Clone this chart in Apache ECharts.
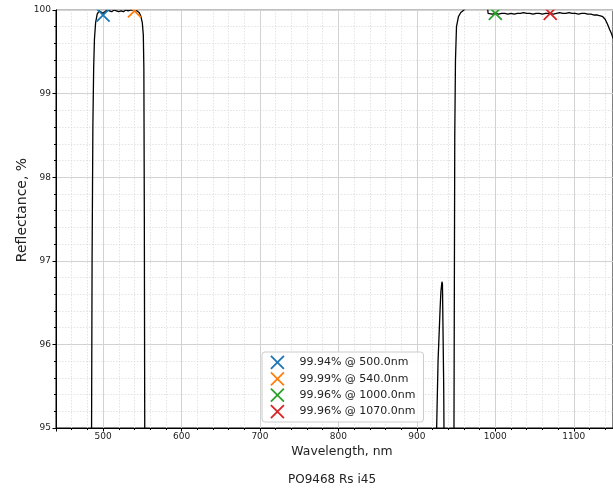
<!DOCTYPE html>
<html>
<head>
<meta charset="utf-8">
<script src="https://cdn.jsdelivr.net/npm/echarts@6/dist/echarts.min.js"></script>
<style>
  html, body { margin: 0; padding: 0; background: #fff; }
  #main { width: 613px; height: 493px; }
</style>
</head>
<body>
<div id="main"></div>
<script>
// measured reflectance curve (values below 95 run off the plot)
var wavelength = [
  440, 484.0, 485.0, 486.0, 487.0, 488.0, 489.0, 490.5, 492.5, 495, 497, 500,
  502, 505, 508, 511, 514, 517, 520, 523, 526, 529, 532, 535, 538, 540, 543,
  546, 548, 550, 551.3, 552, 552.6, 553, 553.6, 556, 600, 900, 924, 925.2, 927,
  929.5, 930.6, 932, 932.6, 934.2, 935.2, 937, 946, 947.3, 948.3, 949.2, 950.5,
  953, 956, 960, 963, 970, 980, 990, 990.8, 993, 996, 1000, 1004, 1008, 1012,
  1016, 1020, 1024, 1028, 1032, 1036, 1040, 1044, 1048, 1052, 1056, 1060, 1064,
  1068, 1070, 1074, 1078, 1082, 1086, 1090, 1094, 1098, 1102, 1106, 1110, 1114,
  1118, 1122, 1126, 1130, 1134, 1137, 1140, 1143, 1146, 1148, 1150
];
var reflectance = [
  80, 88, 94.0, 97.0, 98.6, 99.3, 99.65, 99.85, 99.95, 99.99, 100.0, 99.96,
  99.98, 100.0, 99.99, 99.98, 100.0, 99.99, 99.98, 99.99, 99.98, 100.0, 99.99, 100.0, 100.0, 99.99, 99.99,
  99.97, 99.93, 99.85, 99.7, 99.3, 97.5, 95.5, 93, 85, 80, 80, 88, 95.0, 95.8,
  96.4, 96.63, 96.75, 96.72, 95.5, 94, 88, 88, 95, 98.5, 99.4, 99.8,
  99.92, 99.97, 100.0, 100.03, 100.04, 100.03, 100.04, 99.96, 99.96, 99.95, 99.96, 99.95, 99.96, 99.96,
  99.95, 99.96, 99.95, 99.96, 99.96, 99.97, 99.96, 99.96, 99.95, 99.96, 99.96, 99.95, 99.96,
  99.96, 99.96, 99.95, 99.96, 99.97, 99.96, 99.96, 99.97, 99.96, 99.96, 99.95, 99.96, 99.96,
  99.95, 99.95, 99.94, 99.94, 99.93, 99.92, 99.89, 99.83, 99.76, 99.72, 99.66
];

// marked points
var markWl = [500, 540, 1000, 1070];
var markR = [99.94, 99.99, 99.96, 99.96];
var markNames = ['99.94% @ 500.0nm', '99.99% @ 540.0nm', '99.96% @ 1000.0nm', '99.96% @ 1070.0nm'];
var markColors = ['#1f77b4', '#ff7f0e', '#2ca02c', '#d62728'];

var xIcon = 'path://M0,0L10,10M10,0L0,10';

var curve = wavelength.map(function (w, i) { return [w, reflectance[i]]; });

var series = [{
  type: 'line',
  data: curve,
  showSymbol: false,
  clip: true,
  lineStyle: { color: '#000', width: 1.3 },
  z: 2
}];
markWl.forEach(function (w, i) {
  series.push({
    name: markNames[i],
    type: 'scatter',
    data: [[w, markR[i]]],
    symbol: xIcon,
    symbolSize: 13,
    itemStyle: { color: markColors[i], borderColor: markColors[i], borderWidth: 1.8, opacity: 1 },
    z: 3
  });
});

var chart = echarts.init(document.getElementById('main'));
chart.setOption({
  animation: false,
  backgroundColor: '#fff',
  textStyle: { fontFamily: 'DejaVu Sans' },
  title: {
    text: 'PO9468 Rs i45',
    left: 288,
    top: 474,
    padding: 0,
    textStyle: { fontSize: 12, fontWeight: 'normal', color: '#222', fontFamily: 'DejaVu Sans' }
  },
  // hide the parts of markers that stick out above the plot
  graphic: [{
    type: 'rect',
    shape: { x: 57, y: 0, width: 556, height: 9.5 },
    style: { fill: '#fff' },
    z: 100
  }],
  grid: {
    left: 56, right: 0, top: 10, bottom: 65,
    show: true, borderColor: '#000', borderWidth: 1
  },
  legend: {
    orient: 'vertical',
    left: 262,
    top: 352,
    padding: [3, 8, 3, 8],
    itemWidth: 14,
    itemHeight: 13,
    itemGap: 1.6,
    icon: xIcon,
    itemStyle: { borderWidth: 1.8, opacity: 1 },
    backgroundColor: 'rgba(255,255,255,0.85)',
    borderColor: '#ccc',
    borderWidth: 1,
    borderRadius: 3,
    textStyle: { fontSize: 11, color: '#222', fontFamily: 'DejaVu Sans', padding: [0, 0, 0, 10] },
    data: markNames
  },
  xAxis: {
    type: 'value',
    min: 440,
    max: 1150,
    splitNumber: 7,
    name: 'Wavelength, nm',
    nameLocation: 'middle',
    nameGap: 18,
    nameTextStyle: { fontSize: 12.4, color: '#222', padding: [0, 0, 0, 15] },
    axisLine: { show: true, lineStyle: { color: '#000', width: 1 } },
    axisTick: { show: true, length: 3.5, lineStyle: { color: '#000' } },
    minorTick: { show: true, splitNumber: 5, length: 2, lineStyle: { color: '#000' } },
    axisLabel: {
      fontSize: 9, color: '#222', margin: 4, showMinLabel: false, showMaxLabel: false,
      formatter: function (v) { return String(v); }
    },
    splitLine: { show: true, lineStyle: { color: '#d2d2d2', width: 1 } },
    minorSplitLine: { show: true, lineStyle: { color: '#dcdcdc', type: [1.5, 1.5], width: 0.8 } }
  },
  yAxis: {
    type: 'value',
    min: 95,
    max: 100,
    interval: 1,
    name: 'Reflectance, %',
    nameLocation: 'middle',
    nameGap: 27,
    nameMoveOverlap: false,
    nameTextStyle: { fontSize: 14, color: '#222', padding: [0, 0, 0, 18] },
    axisLine: { show: true, lineStyle: { color: '#000', width: 1 } },
    axisTick: { show: true, length: 3.5, lineStyle: { color: '#000' } },
    minorTick: { show: true, splitNumber: 5, length: 2, lineStyle: { color: '#000' } },
    axisLabel: { fontSize: 9, color: '#222', margin: 5 },
    splitLine: { show: true, lineStyle: { color: '#d2d2d2', width: 1 } },
    minorSplitLine: { show: true, lineStyle: { color: '#dcdcdc', type: [1.5, 1.5], width: 0.8 } }
  },
  series: series
});
</script>
</body>
</html>
